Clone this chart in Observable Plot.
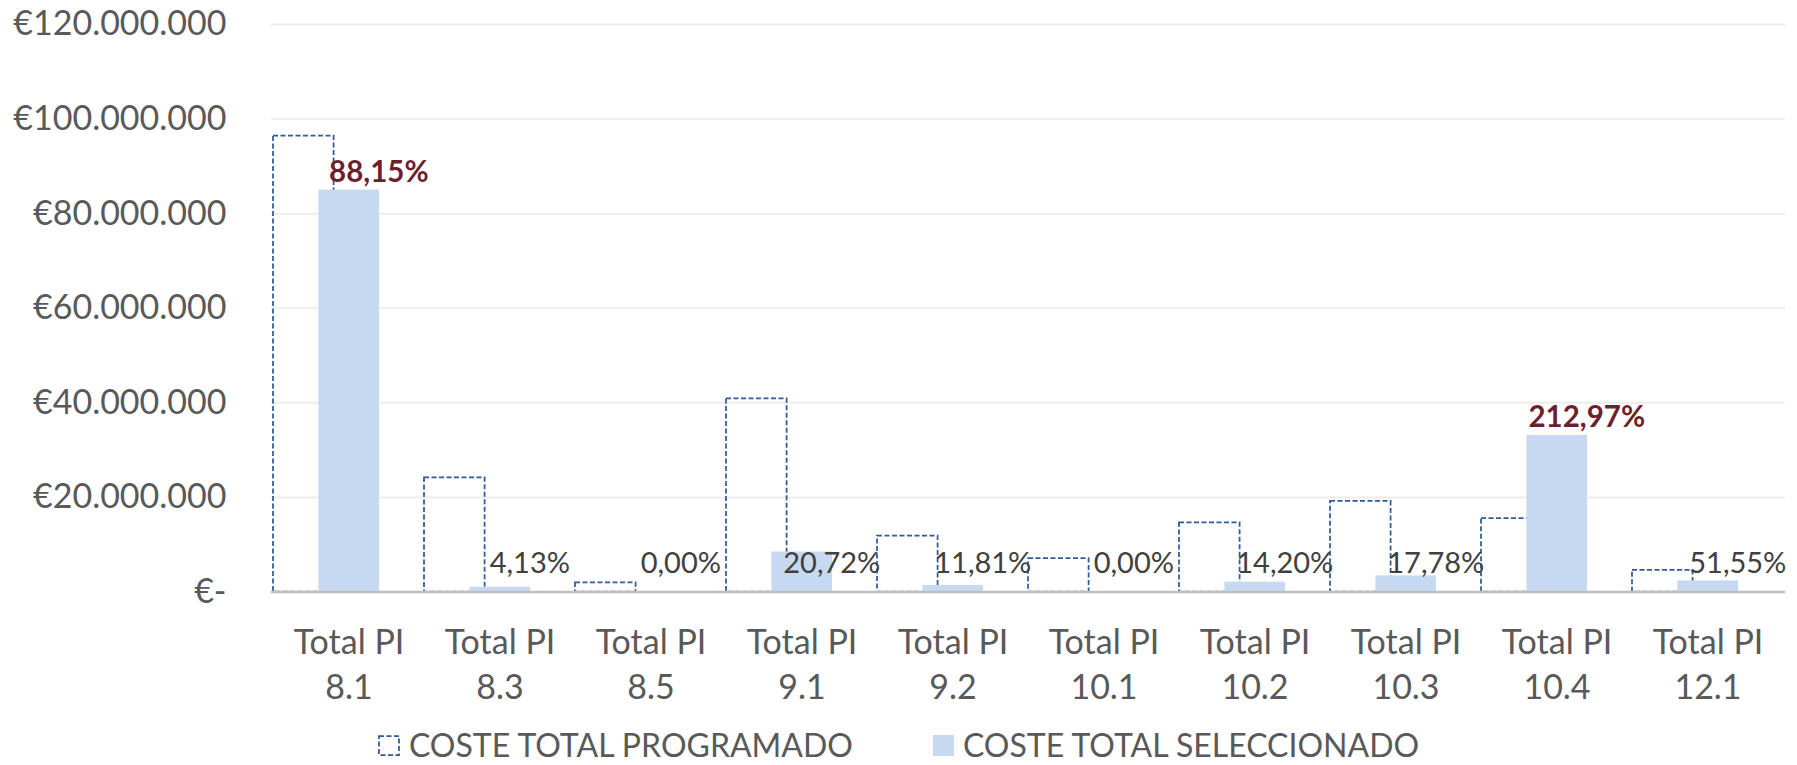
<!DOCTYPE html>
<html><head><meta charset="utf-8">
<script src="https://cdn.jsdelivr.net/npm/d3@7"></script>
<script src="https://cdn.jsdelivr.net/npm/@observablehq/plot@0.6"></script>
<style>
html,body{margin:0;padding:0;background:#fff;}
#wrap{position:relative;width:1797px;height:765px;font-family:Lato,sans-serif;overflow:hidden;}
#legend{position:absolute;left:0;top:729px;width:1797px;height:32px;display:flex;justify-content:center;align-items:center;gap:80px;font-size:32px;color:#595959;line-height:32px;}
.item{display:flex;align-items:center;}
.item svg{margin-right:9px;display:block;}
</style></head><body><div id="wrap"><div id="chart"></div><div id="legend"></div></div>
<script>
const categorias = ["Total PI\n8.1","Total PI\n8.3","Total PI\n8.5","Total PI\n9.1","Total PI\n9.2","Total PI\n10.1","Total PI\n10.2","Total PI\n10.3","Total PI\n10.4","Total PI\n12.1"];
const costeProgramado = [96.4e6, 24.15e6, 1.95e6, 40.85e6, 11.8e6, 7.08e6, 14.63e6, 19.14e6, 15.54e6, 4.55e6];
const costeSeleccionado = [84.98e6, 1.0e6, 0, 8.46e6, 1.39e6, 0, 2.08e6, 3.40e6, 33.1e6, 2.35e6];
const porcentajes = ["88,15%","4,13%","0,00%","20,72%","11,81%","0,00%","14,20%","17,78%","212,97%","51,55%"];
const destacado = [true,false,false,false,false,false,false,false,true,false];
const yTicks = [0, 20e6, 40e6, 60e6, 80e6, 100e6, 120e6];
const series = ["COSTE TOTAL PROGRAMADO", "COSTE TOTAL SELECCIONADO"];

const colProg = "#2F5B98", colSel = "#C6D9F0", colText = "#595959";
const W = 1797, H = 725, mL = 271, mR = 12, mT = 24, mB = H - 591.5;
const bw = (W - mL - mR) / categorias.length;
const barW = 61, step = 45.4, lblOff = 105.5;

const datos = categorias.map((c, i) => ({cat: c, prog: costeProgramado[i], sel: costeSeleccionado[i], pct: porcentajes[i], dest: destacado[i]}));
const fmt = v => v === 0 ? "€-" : "€" + d3.format(",")(v).replace(/,/g, ".");

const chart = Plot.plot({
  width: W, height: H, marginLeft: mL, marginRight: mR, marginTop: mT, marginBottom: mB,
  style: {fontFamily: "Lato, sans-serif", background: "#fff", overflow: "visible"},
  x: {domain: categorias, padding: 0},
  y: {domain: [0, 120e6]},
  marks: [
    Plot.ruleY(yTicks.filter(d => d > 0), {stroke: "#EDEDED", strokeWidth: 2}),
    Plot.barY(datos, {x: "cat", y: "prog", fill: "none", stroke: colProg, strokeWidth: 1.75, strokeDasharray: "5,2.5", insetLeft: 0, insetRight: bw - barW}),
    Plot.barY(datos, {x: "cat", y: "sel", fill: colSel, insetLeft: step, insetRight: bw - step - barW}),
    Plot.ruleY([0], {stroke: "#BFBFBF", strokeWidth: 2.5}),
    Plot.text(datos.filter(d => !d.dest), {x: "cat", y: 0, text: "pct", dx: lblOff - bw / 2, dy: -28.5, fontSize: 29, fill: "#404040"}),
    Plot.text(datos.filter(d => d.dest), {x: "cat", y: "sel", text: "pct", dx: lblOff - bw / 2, dy: -17.5, fontSize: 29.5, fontWeight: "bold", fill: "#6E1F2E"}),
    Plot.axisY({ticks: yTicks, tickFormat: fmt, tickSize: 0, tickPadding: 45, fontSize: 34, color: colText, label: null}),
    Plot.axisX({tickSize: 0, tickPadding: 30, fontSize: 34, color: colText, lineHeight: 1.32, label: null})
  ]
});
document.getElementById("chart").appendChild(chart);

const legend = document.getElementById("legend");
series.forEach((s, i) => {
  const it = document.createElement("div");
  it.className = "item";
  const sw = i === 0
    ? `<svg width="22" height="21"><rect x="1" y="1" width="20" height="19" fill="none" stroke="${colProg}" stroke-width="1.75" stroke-dasharray="5,2.5"/></svg>`
    : `<svg width="21" height="21"><rect x="0" y="0" width="21" height="21" fill="${colSel}"/></svg>`;
  it.innerHTML = sw + `<span>${s}</span>`;
  legend.appendChild(it);
});
</script></body></html>
